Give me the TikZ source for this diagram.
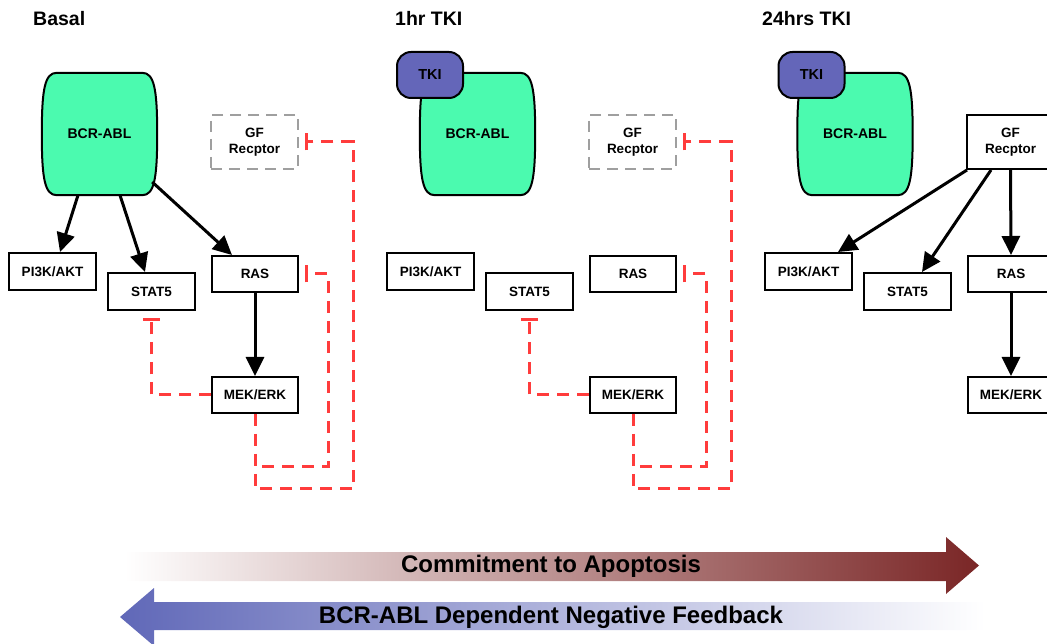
\documentclass[tikz,border=0pt]{standalone}
\usepackage{fontspec}
\setmainfont{Liberation Sans}
\usetikzlibrary{arrows.meta,calc,backgrounds}
\definecolor{bcrgreen}{RGB}{75,250,175}
\definecolor{tkiblue}{RGB}{100,102,185}
\definecolor{inhred}{RGB}{255,60,60}
\definecolor{apored}{RGB}{122,38,38}
\definecolor{fbblue}{RGB}{96,104,184}
\newcommand\barreldraw[1]{%
  \draw[line width=2pt, fill=bcrgreen]
    ($(#1.north west)+(15,0)$) -- ($(#1.north east)+(-15,0)$)
    .. controls ($(#1.north east)+(-3,0)$) and ($(#1.east)+(0,45)$) .. (#1.east)
    .. controls ($(#1.east)+(0,-45)$) and ($(#1.south east)+(-3,0)$) .. ($(#1.south east)+(-15,0)$)
    -- ($(#1.south west)+(15,0)$)
    .. controls ($(#1.south west)+(3,0)$) and ($(#1.west)+(0,-45)$) .. (#1.west)
    .. controls ($(#1.west)+(0,45)$) and ($(#1.north west)+(3,0)$) .. cycle;}
\tikzset{
  box/.style={draw, line width=2pt, minimum width=87pt, minimum height=37pt, inner sep=0pt,
    font=\fontsize{13.5}{15.5}\selectfont\bfseries, align=center, fill=white},
  gfbox/.style={box, minimum height=54pt},
  gfdash/.style={gfbox, draw=gray!75, dash pattern=on 11pt off 7pt, line width=2.4pt},
  act/.style={line width=3pt, -{Triangle[length=19pt,width=18pt]}},
  inh/.style={draw=inhred, line width=3pt, dash pattern=on 12pt off 8pt,
    -{Bar[width=17pt,line width=3pt]}},
  bcrnode/.style={minimum width=115pt, minimum height=122pt, inner sep=0pt,
    font=\fontsize{14}{16}\selectfont\bfseries},
  tkinode/.style={draw, line width=2pt, fill=tkiblue, rounded corners=14pt,
    minimum width=66pt, minimum height=46pt, inner sep=0pt,
    font=\fontsize{14.5}{16}\selectfont\bfseries},
  title/.style={anchor=base west, inner sep=0pt, font=\fontsize{19.5}{22}\selectfont\bfseries},
  bigtext/.style={inner sep=0pt, font=\fontsize{24}{26}\selectfont\bfseries},
}
\begin{document}
\begin{tikzpicture}[x=1pt,y=1pt]
\useasboundingbox (0,0) rectangle (1047,643);
\clip (0,0) rectangle (1047,643);
% titles
\node[title] (t1) at (33,617) {Basal};
\node[title] (t2) at (395,617) {1hr TKI};
\node[title] (t3) at (762,617) {24hrs TKI};
% ---------------- Panel 1 ----------------
\node[bcrnode] (bcr) at (99.5,509) {BCR-ABL};
\begin{scope}[on background layer]\barreldraw{bcr}\end{scope}
\node[gfdash] (gf) at (254.5,501) {GF\\Recptor};
\node[box] (pi) at (52.5,371.5) {PI3K/AKT};
\node[box] (stat) at (151.5,351.5) {STAT5};
\node[box, minimum width=86pt, minimum height=36pt] (ras) at (255,369) {RAS};
\node[box, minimum width=86pt, minimum height=36pt] (mek) at (255,248) {MEK/ERK};
\draw[act] ($(bcr.south)+(-21.5,0)$) -- ($(pi.north)+(7.5,0)$);
\draw[act] ($(bcr.south)+(20.5,0)$) -- ($(stat.north)+(-6.5,0)$);
\draw[act] ($(bcr.east)+(-5,-48)$) -- ($(ras.north)+(-23,0)$);
\draw[act] (ras.south) -- (mek.north);
\draw[inh] (mek.west) -| ($(stat.south)+(0,-7)$);
\draw[inh] (mek.south) -- ++(0,-53) -| ($(ras.east)+(29,0)$) -- ($(ras.east)+(6,0)$);
\draw[inh] (mek.south) -- ++(0,-75) -| ($(gf.east)+(54,0)$) -- ($(gf.east)+(6,0)$);
% ---------------- Panel 2 ----------------
\node[bcrnode] (bcr2) at (477.5,509) {BCR-ABL};
\begin{scope}[on background layer]\barreldraw{bcr2}\end{scope}
\node[tkinode] (tki2) at (430,568) {TKI};
\node[gfdash] (gf2) at (632.5,501) {GF\\Recptor};
\node[box] (pi2) at (430.5,371.5) {PI3K/AKT};
\node[box] (stat2) at (529.5,351.5) {STAT5};
\node[box, minimum width=86pt, minimum height=36pt] (ras2) at (633,369) {RAS};
\node[box, minimum width=86pt, minimum height=36pt] (mek2) at (633,248) {MEK/ERK};
\draw[inh] (mek2.west) -| ($(stat2.south)+(0,-7)$);
\draw[inh] (mek2.south) -- ++(0,-53) -| ($(ras2.east)+(29,0)$) -- ($(ras2.east)+(6,0)$);
\draw[inh] (mek2.south) -- ++(0,-75) -| ($(gf2.east)+(54,0)$) -- ($(gf2.east)+(6,0)$);
% ---------------- Panel 3 ----------------
\node[bcrnode] (bcr3) at (855,509) {BCR-ABL};
\begin{scope}[on background layer]\barreldraw{bcr3}\end{scope}
\node[tkinode] (tki3) at (811.5,568) {TKI};
\node[gfbox] (gf3) at (1010.5,501) {GF\\Recptor};
\node[box] (pi3) at (808.5,371.5) {PI3K/AKT};
\node[box] (stat3) at (907.5,351.5) {STAT5};
\node[box, minimum width=86pt, minimum height=36pt] (ras3) at (1011,369) {RAS};
\node[box, minimum width=86pt, minimum height=36pt] (mek3) at (1011,248) {MEK/ERK};
\draw[act] ($(gf3.south west)+(1,0)$) -- ($(pi3.north)+(29.5,0)$);
\draw[act] ($(gf3.south west)+(25,0)$) -- ($(stat3.north)+(14.5,0)$);
\draw[act] (gf3.south) -- (ras3.north);
\draw[act] (ras3.south) -- (mek3.north);
% ---------------- Bottom arrows ----------------
\path[left color=white, right color=apored]
  (125,91) -- (946,91) -- (946,106) -- (979,77.5) -- (946,49) -- (946,62) -- (125,62) -- cycle;
\node[bigtext] (apo) at (551,77) {Commitment to Apoptosis};
\path[left color=fbblue, right color=white]
  (120,26) -- (154,55) -- (154,41) -- (985,41) -- (985,13) -- (154,13) -- (154,-3) -- cycle;
\node[bigtext] (fb) at (551,26) {BCR-ABL Dependent Negative Feedback};
\end{tikzpicture}
\end{document}
